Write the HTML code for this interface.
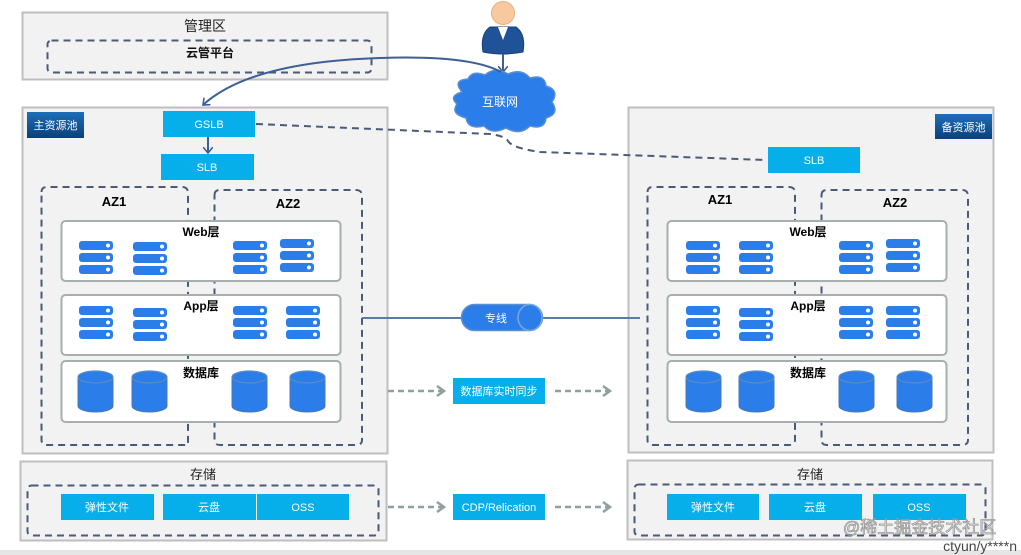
<!DOCTYPE html>
<html><head><meta charset="utf-8">
<style>
html,body{margin:0;padding:0;background:#fff;}
svg{display:block;font-family:"Liberation Sans","Noto Sans CJK SC",sans-serif;}
</style></head>
<body>
<svg width="1021" height="555" viewBox="0 0 1021 555" xmlns="http://www.w3.org/2000/svg">
<defs>
<g id="srv">
<rect x="0" y="0" width="34" height="9" rx="3" fill="#2b7de9"/><circle cx="29" cy="4.5" r="2" fill="#fff"/>
<rect x="0" y="12" width="34" height="9" rx="3" fill="#2b7de9"/><circle cx="29" cy="16.5" r="2" fill="#fff"/>
<rect x="0" y="24" width="34" height="9" rx="3" fill="#2b7de9"/><circle cx="29" cy="28.5" r="2" fill="#fff"/>
</g>
<g id="cyl">
<path d="M0 6 L0 35 A17.5 6 0 0 0 35 35 L35 6 Z" fill="#2b7de9" stroke="#4a79b0" stroke-width="1"/>
<ellipse cx="17.5" cy="6" rx="17.5" ry="6" fill="#2b7de9" stroke="#5f8bc0" stroke-width="1.2"/>
</g>
<linearGradient id="lbl" x1="0" y1="0" x2="0" y2="1"><stop offset="0" stop-color="#1d6fb8"/><stop offset="1" stop-color="#0b3f7a"/></linearGradient>
<marker id="ah" markerWidth="10" markerHeight="10" refX="6" refY="5" orient="auto" markerUnits="userSpaceOnUse"><path d="M0 0 L6 5 L0 10" fill="none" stroke="#3d5f93" stroke-width="1.6"/></marker>
<marker id="ga" markerWidth="12" markerHeight="12" refX="8" refY="6" orient="auto" markerUnits="userSpaceOnUse"><path d="M1 1 L8 6 L1 11" fill="none" stroke="#8fa0a0" stroke-width="2.5"/></marker>
</defs>

<!-- 管理区 -->
<rect x="22.5" y="12.5" width="365" height="67" fill="#f2f2f2" stroke="#bfbfbf" stroke-width="2"/>
<text x="205" y="31" font-size="14" text-anchor="middle" fill="#222">管理区</text>
<rect x="47.5" y="40.5" width="324" height="32" rx="4" fill="none" stroke="#4a5b78" stroke-width="2" stroke-dasharray="7,5"/>
<text x="210" y="57" font-size="12" font-weight="bold" text-anchor="middle" fill="#111">云管平台</text>

<!-- main pool -->
<rect x="22.5" y="107.5" width="365" height="346" fill="#f2f2f2" stroke="#bfbfbf" stroke-width="2"/>
<rect x="27" y="112" width="57" height="26" fill="url(#lbl)"/>
<text x="55.5" y="129" font-size="11" text-anchor="middle" fill="#fff">主资源池</text>
<rect x="163" y="111" width="92" height="26" fill="#06aeea"/>
<text x="209" y="128" font-size="11" text-anchor="middle" fill="#fff">GSLB</text>
<rect x="161" y="154" width="93" height="26" fill="#06aeea"/>
<text x="207" y="171" font-size="11" text-anchor="middle" fill="#fff">SLB</text>
<line x1="208" y1="137" x2="208" y2="153" stroke="#3d5f93" stroke-width="2" marker-end="url(#ah)"/>
<path d="M41.5 192 Q41.5 187 47 187 L182 187 Q188 187 188 193 L188 445 L47 445 Q41.5 445 41.5 440 Z" fill="none" stroke="#4a5b78" stroke-width="2" stroke-dasharray="7,5"/>
<path d="M214.5 195 Q214.5 190 220 190 L356 190 Q362 190 362 196 L362 440 Q362 445 356 445 L220 445 Q214.5 445 214.5 440 Z" fill="none" stroke="#4a5b78" stroke-width="2" stroke-dasharray="7,5"/>
<text x="114" y="206" font-size="13" font-weight="bold" text-anchor="middle">AZ1</text>
<text x="288" y="208" font-size="13" font-weight="bold" text-anchor="middle">AZ2</text>
<rect x="61.5" y="221" width="279" height="60" rx="4" fill="#fff" stroke="#a6aeae" stroke-width="2"/>
<rect x="61.5" y="295" width="279" height="60" rx="4" fill="#fff" stroke="#a6aeae" stroke-width="2"/>
<rect x="61.5" y="361" width="279" height="61" rx="4" fill="#fff" stroke="#a6aeae" stroke-width="2"/>
<text x="201" y="236" font-size="12" font-weight="bold" text-anchor="middle">Web层</text>
<text x="201" y="310" font-size="12" font-weight="bold" text-anchor="middle">App层</text>
<text x="201" y="377" font-size="12" font-weight="bold" text-anchor="middle">数据库</text>
<use href="#srv" x="79" y="241"/><use href="#srv" x="133" y="242"/><use href="#srv" x="233" y="241"/><use href="#srv" x="280" y="239"/>
<use href="#srv" x="79" y="306"/><use href="#srv" x="133" y="308"/><use href="#srv" x="233" y="306"/><use href="#srv" x="286" y="306"/>
<use href="#cyl" x="78" y="371"/><use href="#cyl" x="132" y="371"/><use href="#cyl" x="232" y="371"/><use href="#cyl" x="290" y="371"/>

<!-- left storage -->
<rect x="20.5" y="461.5" width="366" height="79" fill="#f2f2f2" stroke="#bfbfbf" stroke-width="2"/>
<text x="203" y="479" font-size="13" text-anchor="middle" fill="#222">存储</text>
<rect x="27.5" y="485.5" width="351" height="50" rx="4" fill="none" stroke="#4a5b78" stroke-width="2" stroke-dasharray="7,5"/>
<rect x="61" y="494" width="93" height="26" fill="#06aeea"/><text x="107" y="511" font-size="11" text-anchor="middle" fill="#fff">弹性文件</text>
<rect x="163" y="494" width="93" height="26" fill="#06aeea"/><text x="209" y="511" font-size="11" text-anchor="middle" fill="#fff">云盘</text>
<rect x="257" y="494" width="92" height="26" fill="#06aeea"/><text x="303" y="511" font-size="11" text-anchor="middle" fill="#fff">OSS</text>

<!-- right pool -->
<rect x="628.5" y="107.5" width="365" height="345" fill="#f2f2f2" stroke="#bfbfbf" stroke-width="2"/>
<rect x="935" y="114" width="57" height="25" fill="url(#lbl)"/>
<text x="963.5" y="131" font-size="11" text-anchor="middle" fill="#fff">备资源池</text>
<rect x="768" y="147" width="92" height="26" fill="#06aeea"/>
<text x="814" y="164" font-size="11" text-anchor="middle" fill="#fff">SLB</text>
<path d="M647.5 192 Q647.5 187 653 187 L789 187 Q795 187 795 193 L795 440 Q795 445 789 445 L653 445 Q647.5 445 647.5 440 Z" fill="none" stroke="#4a5b78" stroke-width="2" stroke-dasharray="7,5"/>
<path d="M821.5 195 Q821.5 190 827 190 L962 190 Q968 190 968 196 L968 440 Q968 445 962 445 L827 445 Q821.5 445 821.5 440 Z" fill="none" stroke="#4a5b78" stroke-width="2" stroke-dasharray="7,5"/>
<text x="720" y="204" font-size="13" font-weight="bold" text-anchor="middle">AZ1</text>
<text x="895" y="207" font-size="13" font-weight="bold" text-anchor="middle">AZ2</text>
<rect x="667.5" y="221" width="279" height="60" rx="4" fill="#fff" stroke="#a6aeae" stroke-width="2"/>
<rect x="667.5" y="295" width="279" height="60" rx="4" fill="#fff" stroke="#a6aeae" stroke-width="2"/>
<rect x="667.5" y="361" width="279" height="61" rx="4" fill="#fff" stroke="#a6aeae" stroke-width="2"/>
<text x="808" y="236" font-size="12" font-weight="bold" text-anchor="middle">Web层</text>
<text x="808" y="310" font-size="12" font-weight="bold" text-anchor="middle">App层</text>
<text x="808" y="377" font-size="12" font-weight="bold" text-anchor="middle">数据库</text>
<use href="#srv" x="686" y="241"/><use href="#srv" x="739" y="241"/><use href="#srv" x="839" y="241"/><use href="#srv" x="886" y="239"/>
<use href="#srv" x="686" y="306"/><use href="#srv" x="739" y="308"/><use href="#srv" x="839" y="306"/><use href="#srv" x="886" y="306"/>
<use href="#cyl" x="686" y="371"/><use href="#cyl" x="739" y="371"/><use href="#cyl" x="839" y="371"/><use href="#cyl" x="897" y="371"/>

<!-- right storage -->
<rect x="627.5" y="460.5" width="365" height="79" fill="#f2f2f2" stroke="#bfbfbf" stroke-width="2"/>
<text x="810" y="479" font-size="13" text-anchor="middle" fill="#222">存储</text>
<rect x="634.5" y="484.5" width="351" height="51" rx="4" fill="none" stroke="#4a5b78" stroke-width="2" stroke-dasharray="7,5"/>
<rect x="667" y="494" width="92" height="26" fill="#06aeea"/><text x="713" y="511" font-size="11" text-anchor="middle" fill="#fff">弹性文件</text>
<rect x="769" y="494" width="93" height="26" fill="#06aeea"/><text x="815" y="511" font-size="11" text-anchor="middle" fill="#fff">云盘</text>
<rect x="873" y="494" width="93" height="26" fill="#06aeea"/><text x="919" y="511" font-size="11" text-anchor="middle" fill="#fff">OSS</text>

<!-- person -->
<path d="M483 52 Q480 34 490 27 L516 27 Q526 34 523 52 Q503 56 483 52 Z" fill="#1f5296" stroke="#173f75" stroke-width="1"/>
<path d="M498 27 L503 40 L508 27 Z" fill="#fff"/>
<circle cx="503" cy="13" r="11.5" fill="#f8c89e" stroke="#e8b080" stroke-width="1"/>
<line x1="503" y1="54" x2="503" y2="72" stroke="#3d5f93" stroke-width="2" marker-end="url(#ah)"/>

<!-- cloud -->
<path d="M462 92 Q452 80 468 79 Q472 70 485 75 Q495 66 508 74 Q522 68 530 78 Q545 74 546 86 Q560 90 552 102 Q560 114 546 118 Q545 130 530 126 Q520 136 506 128 Q492 135 484 126 Q468 130 466 118 Q450 114 457 104 Q448 96 462 92 Z" fill="#2b7de9" stroke="#5b8fd0" stroke-width="1.5"/>
<text x="500" y="106" font-size="12" text-anchor="middle" fill="#fff">互联网</text>

<!-- curve cloud -> GSLB -->
<path d="M501 72 Q470 55 380 58 Q250 62 203 105" fill="none" stroke="#3d5f93" stroke-width="2" marker-end="url(#ah)"/>
<!-- dashed GSLB -> SLB right -->
<path d="M256 124 L490 134 Q505 136 508 141 Q512 148 540 152 L766 160" fill="none" stroke="#4a5b78" stroke-width="2" stroke-dasharray="7,5"/>

<!-- 专线 -->
<line x1="362" y1="318" x2="462" y2="318" stroke="#5a7ea3" stroke-width="2"/>
<line x1="542" y1="318" x2="640" y2="318" stroke="#5a7ea3" stroke-width="2"/>
<rect x="461.5" y="304.5" width="81" height="26" rx="13" fill="#2b7de9" stroke="#5b8fd0" stroke-width="1.5"/>
<ellipse cx="530" cy="317.5" rx="12" ry="13" fill="#2b7de9" stroke="#7aa6da" stroke-width="1.5"/>
<text x="496" y="322" font-size="11" text-anchor="middle" fill="#fff">专线</text>

<!-- sync arrows -->
<line x1="388" y1="391" x2="444" y2="391" stroke="#8fa0a0" stroke-width="2.5" stroke-dasharray="6,4" marker-end="url(#ga)"/>
<rect x="453" y="378" width="92" height="26" fill="#06aeea"/>
<text x="499" y="395" font-size="11" text-anchor="middle" fill="#fff">数据库实时同步</text>
<line x1="555" y1="391" x2="610" y2="391" stroke="#8fa0a0" stroke-width="2.5" stroke-dasharray="6,4" marker-end="url(#ga)"/>
<line x1="388" y1="507" x2="444" y2="507" stroke="#8fa0a0" stroke-width="2.5" stroke-dasharray="6,4" marker-end="url(#ga)"/>
<rect x="453" y="494" width="92" height="26" fill="#06aeea"/>
<text x="499" y="511" font-size="11" text-anchor="middle" fill="#fff">CDP/Relication</text>
<line x1="555" y1="507" x2="610" y2="507" stroke="#8fa0a0" stroke-width="2.5" stroke-dasharray="6,4" marker-end="url(#ga)"/>

<!-- watermark -->
<text x="843" y="533" font-size="17" fill="none" stroke="#999" stroke-width="0.8">@稀土掘金技术社区</text>
<rect x="0" y="550" width="1021" height="5" fill="#e6e6e6"/>
<text x="1017" y="551" font-size="14" text-anchor="end" fill="#444">ctyun/y****n</text>
</svg>
</body></html>
